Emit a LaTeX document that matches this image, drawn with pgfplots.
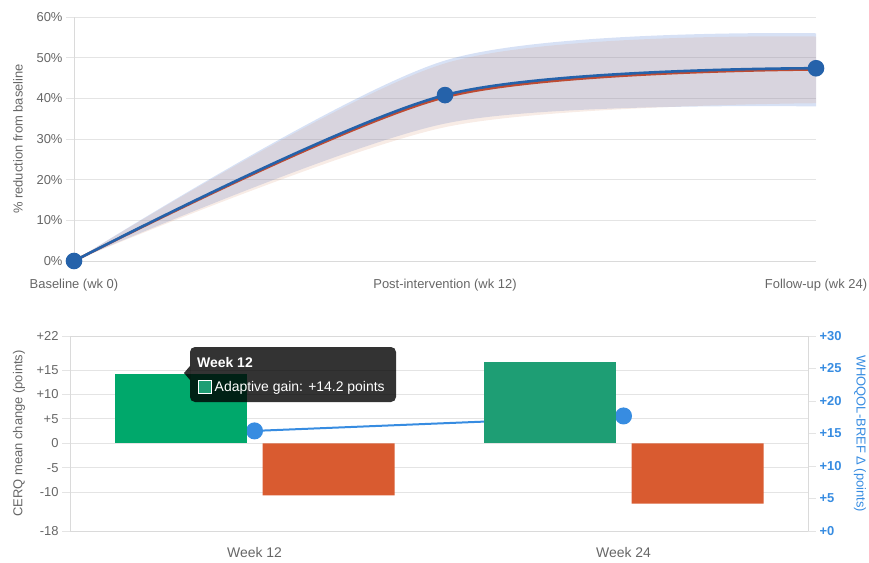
\documentclass[border=0pt]{standalone}
\usepackage{pgfplots}
\pgfplotsset{compat=1.18}
\usepgfplotslibrary{fillbetween}
\usepackage{fontspec}
\setmainfont{Liberation Sans}
\definecolor{gridgray}{RGB}{228,228,228}
\definecolor{axgray}{RGB}{218,218,218}
\definecolor{txtgray}{RGB}{102,102,102}
\definecolor{lineblue}{RGB}{37,98,170}
\definecolor{linered}{RGB}{190,75,50}
\definecolor{bandblue}{RGB}{55,105,205}
\definecolor{bandred}{RGB}{220,160,130}
\definecolor{greenA}{RGB}{0,168,107}
\definecolor{greenB}{RGB}{30,158,116}
\definecolor{barred}{RGB}{217,91,48}
\definecolor{whoblue}{RGB}{55,140,225}
\begin{document}
\begin{tikzpicture}[x=1bp,y=1bp]
% ---------- top chart ----------
\begin{axis}[
  at={(74bp,-261bp)}, anchor=south west, scale only axis,
  width=742bp, height=244bp,
  xmin=0, xmax=24, ymin=0, ymax=60,
  axis x line*=bottom, axis y line*=left,
  axis line style={draw=axgray, line width=0.8bp},
  xtick={0,12,24},
  xticklabels={Baseline (wk 0), Post-intervention (wk 12), Follow-up (wk 24)},
  ytick={0,10,...,60},
  yticklabels={0\%,10\%,20\%,30\%,40\%,50\%,60\%},
  ymajorgrids, grid style={draw=gridgray, line width=0.8bp},
  tick align=outside, major tick length=8bp,
  ytick style={draw=gridgray, line width=0.8bp}, xtick style={draw=none},
  tick label style={font=\fontsize{13}{15}\selectfont, text=txtgray},
  xticklabel style={yshift=-7bp},
  ylabel={\% reduction from baseline},
  ylabel style={font=\fontsize{13}{15}\selectfont, text=txtgray,
    at={(axis description cs:-0.0755,0.5)}, anchor=center},
]
\addplot[draw=none, smooth, name path=bu] coordinates {(0,0) (12,49.3) (24,56.0)};
\addplot[draw=none, smooth, name path=bl] coordinates {(0,0) (12,33.8) (24,38.0)};
\addplot[draw=none, smooth, name path=ru] coordinates {(0,0) (12,48.6) (24,55.2)};
\addplot[draw=none, smooth, name path=rl] coordinates {(0,0) (12,32.9) (24,38.8)};
\addplot[fill=bandblue, fill opacity=0.2, draw=none] fill between[of=bu and bl];
\addplot[fill=bandred, fill opacity=0.2, draw=none] fill between[of=ru and rl];
\addplot[linered, line width=2.6bp, smooth] coordinates {(0,0) (12,40.3) (24,47.1)};
\addplot[lineblue, line width=2.6bp, smooth, mark=*, mark size=7bp,
  mark options={fill=lineblue, draw=lineblue}] coordinates {(0,0) (12,40.8) (24,47.4)};
\end{axis}
% ---------- bottom chart: left scale, grid ----------
\begin{axis}[
  at={(70bp,-531bp)}, anchor=south west, scale only axis,
  width=738bp, height=195bp,
  xmin=-0.5, xmax=1.5, ymin=-18, ymax=22,
  axis line style={draw=axgray, line width=0.8bp},
  xtick={0,1}, xticklabels={Week 12, Week 24}, xtick style={draw=none},
  ytick={-18,-10,-5,0,5,10,15,22},
  yticklabels={-18,-10,-5,0,+5,+10,+15,+22},
  ytick pos=left,
  ymajorgrids, grid style={draw=gridgray, line width=0.8bp},
  tick align=outside, major tick length=8bp,
  ytick style={draw=gridgray, line width=0.8bp},
  tick label style={font=\fontsize{13}{15}\selectfont, text=txtgray},
  xticklabel style={font=\fontsize{14}{16}\selectfont, yshift=-5bp},
  ylabel={CERQ mean change (points)},
  ylabel style={font=\fontsize{13}{15}\selectfont, text=txtgray,
    at={(axis description cs:-0.0691,0.5)}, anchor=center},
]
\end{axis}
% ---------- bottom chart: right scale, line ----------
\begin{axis}[
  at={(70bp,-531bp)}, anchor=south west, scale only axis,
  width=738bp, height=195bp,
  xmin=-0.5, xmax=1.5, ymin=0, ymax=30,
  axis x line=none, axis y line*=right,
  axis line style={draw=axgray, line width=0.8bp},
  ytick={0,5,...,30}, yticklabels={+0,+5,+10,+15,+20,+25,+30},
  tick align=outside, major tick length=8bp,
  ytick style={draw=gridgray, line width=0.8bp},
  yticklabel style={font=\bfseries\fontsize{13}{15}\selectfont, text=whoblue},
  ylabel={WHOQOL-BREF Δ (points)},
  ylabel style={font=\fontsize{13}{15}\selectfont, text=whoblue, rotate=180,
    at={(axis description cs:1.0705,0.5)}, anchor=center},
]
\addplot[whoblue, line width=2bp, mark=*, mark size=7.5bp,
  mark options={fill=whoblue, draw=whoblue}] coordinates {(0,15.4) (1,17.7)};
\end{axis}
% ---------- bottom chart: bars ----------
\begin{axis}[
  at={(70bp,-531bp)}, anchor=south west, scale only axis,
  width=738bp, height=195bp,
  xmin=-0.5, xmax=1.5, ymin=-18, ymax=22,
  axis lines=none, clip=false,
]
\addplot[ybar, bar width=132bp, bar shift=-74bp, fill=greenA, draw=none] coordinates {(0,14.2)};
\addplot[ybar, bar width=132bp, bar shift=-74bp, fill=greenB, draw=none] coordinates {(1,16.6)};
\addplot[ybar, bar width=132bp, bar shift=74bp, fill=barred, draw=none] coordinates {(0,-10.7) (1,-12.4)};
\end{axis}
% ---------- tooltip ----------
\fill[black, opacity=0.8, rounded corners=5bp] (190,-347) rectangle (396,-402);
\fill[black, opacity=0.8] (190,-366) -- (184,-373) -- (190,-380) -- cycle;
\node[anchor=base west, inner sep=0, text=white, font=\bfseries\fontsize{14}{16}\selectfont] at (197,-367) {Week 12};
\draw[white, fill=greenB, line width=1bp] (198.5,-380.5) rectangle (211.5,-393.5);
\node[anchor=base west, inner sep=0, text=white, font=\fontsize{14}{16}\selectfont] at (214.5,-391) {Adaptive gain: +14.2 points};
\pgfresetboundingbox
\useasboundingbox (0,0) rectangle (869,-563);
\end{tikzpicture}
\end{document}
